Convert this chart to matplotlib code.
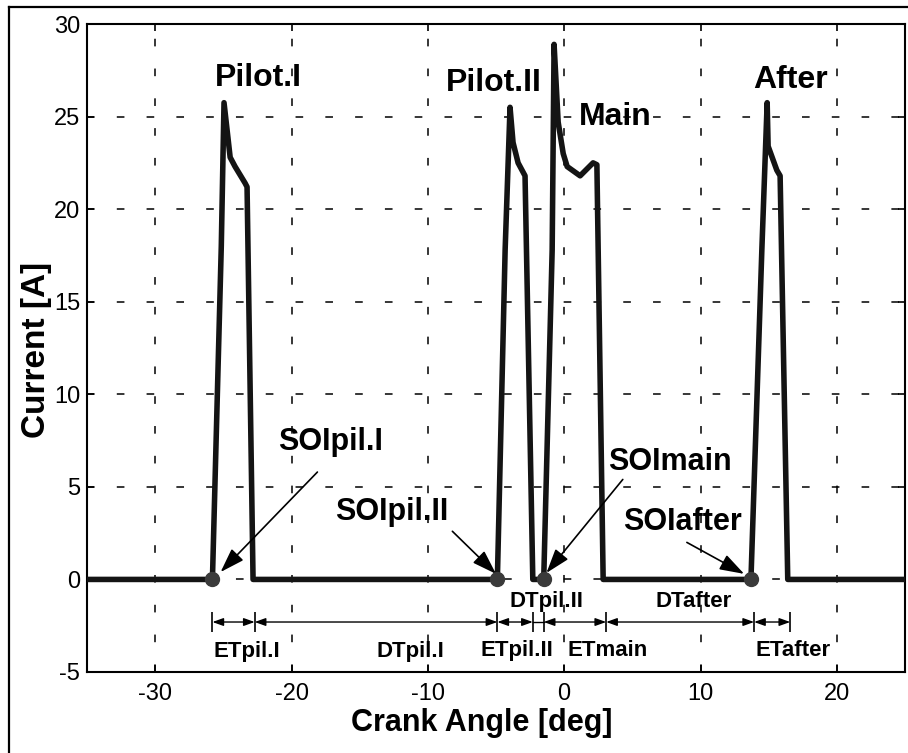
import matplotlib
matplotlib.use('Agg')
import matplotlib.pyplot as plt
from matplotlib.lines import Line2D

plt.rcParams['font.family'] = ['Liberation Sans', 'DejaVu Sans']
plt.rcParams['axes.unicode_minus'] = False

# injector current trace
angle = [-35, -25.8, -25.15, -24.95, -24.5, -24.14, -23.4, -23.26, -22.82,
         -4.9, -4.33, -3.97, -3.75, -3.38, -2.87, -2.3,
         -1.5, -0.88, -0.74, -0.44, -0.07, 0.22, 1.17, 2.12, 2.4, 2.86,
         13.7, 14.5, 14.89, 14.96, 15.6, 15.84, 16.4, 25]
current = [0, 0, 18.0, 25.75, 22.8, 22.3, 21.4, 21.2, 0,
           0, 17.8, 25.5, 23.6, 22.5, 21.8, 0,
           0, 17.8, 28.9, 24.7, 23.0, 22.3, 21.8, 22.5, 22.4, 0,
           0, 17.8, 25.75, 23.4, 22.1, 21.8, 0, 0]

# start of injection points
soi_x = [-25.8, -4.9, -1.5, 13.7]
soi_names = ['SOIpil.I', 'SOIpil.II', 'SOImain', 'SOIafter']
soi_text_xy = [(-21.0, 7.4), (-16.8, 3.65), (3.2, 6.35), (4.3, 3.1)]
soi_tail = [(-18.1, 5.8), (-8.2, 2.6), (4.3, 5.4), (9.0, 2.0)]
soi_tip = [(-25.2, 0.4), (-5.0, 0.3), (-1.3, 0.35), (13.2, 0.3)]

# injection labels above the peaks
peak_names = ['Pilot.I', 'Pilot.II', 'Main', 'After']
peak_xy = [(-22.45, 27.1), (-5.14, 26.8), (3.74, 25.0), (16.58, 27.0)]

# timing segments along the bottom
seg_edges = [-25.8, -22.7, -4.9, -2.3, -1.5, 3.08, 13.93, 16.58]
seg_names = ['ETpil.I', 'DTpil.I', 'ETpil.II', 'DTpil.II', 'ETmain', 'DTafter', 'ETafter']
seg_label_xy = [(-23.3, -3.9), (-11.3, -3.9), (-3.5, -3.85), (-1.3, -1.2),
                (3.2, -3.85), (9.5, -1.2), (16.8, -3.85)]
seg_y = -2.3

fig = plt.figure(figsize=(9.08, 7.53), dpi=100)
ax = fig.add_axes([87/908, 1 - 672/753, 818/908, 648/753])

# outer frame of the figure (only left and top visible)
fig.add_artist(Line2D([9/908, 9/908], [0, 1 - 7/753], transform=fig.transFigure, color='k', lw=1.6))
fig.add_artist(Line2D([9/908, 1], [1 - 7/753, 1 - 7/753], transform=fig.transFigure, color='k', lw=1.6))

ax.plot(angle, current, color='#141414', lw=4, solid_joinstyle='round', zorder=3)
ax.plot(soi_x, [0]*len(soi_x), 'o', color='#3a3a3a', markersize=10, zorder=4)

for name, (tx, ty) in zip(peak_names, peak_xy):
    ax.text(tx, ty, name, ha='center', va='center', fontsize=23, fontweight='bold')

for name, (tx, ty), tail, tip in zip(soi_names, soi_text_xy, soi_tail, soi_tip):
    ax.text(tx, ty, name, ha='left', va='center', fontsize=22, fontweight='bold')
    ax.annotate('', xy=tip, xytext=tail,
                arrowprops=dict(arrowstyle='-|>,head_length=0.75,head_width=0.25',
                                mutation_scale=20, lw=1.2, color='k',
                                shrinkA=0, shrinkB=0))

# dimension lines
for i in range(len(seg_edges) - 1):
    a, b = seg_edges[i], seg_edges[i + 1]
    if b - a < 1:
        ax.plot([a, b], [seg_y, seg_y], color='k', lw=1)
    else:
        ax.annotate('', xy=(b, seg_y), xytext=(a, seg_y),
                    arrowprops=dict(arrowstyle='<|-|>,head_length=0.5,head_width=0.18',
                                    mutation_scale=13, lw=1, color='k',
                                    shrinkA=0, shrinkB=0))
ax.vlines(seg_edges, seg_y - 0.55, seg_y + 0.55, color='k', lw=1.2)

for name, (tx, ty) in zip(seg_names, seg_label_xy):
    ax.text(tx, ty, name, ha='center', va='center', fontsize=16, fontweight='bold')

ax.set_xlim(-35, 25)
ax.set_ylim(-5, 30)
ax.set_xticks(range(-30, 21, 10))
ax.set_yticks(range(-5, 31, 5))
ax.grid(True, color='k', lw=1.1, linestyle=(0, (5, 14.5)))
ax.tick_params(direction='in', length=5, width=1.2, labelsize=17, top=True, right=True)
ax.tick_params(axis='x', pad=8)
ax.tick_params(axis='y', pad=5)
for s in ax.spines.values():
    s.set_linewidth(1.5)

ax.set_xlabel('Crank Angle [deg]', fontsize=22, fontweight='bold')
ax.set_ylabel('Current [A]', fontsize=24, fontweight='bold')
ax.xaxis.set_label_coords(0.482, -0.055)
ax.yaxis.set_label_coords(-0.043, 0.497)

fig.savefig('out.png', dpi=100)
